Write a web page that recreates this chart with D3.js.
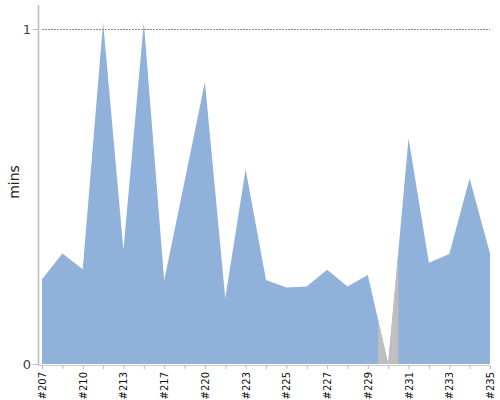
<!DOCTYPE html>
<html><head><meta charset="utf-8">
<script src="https://cdn.jsdelivr.net/npm/d3@7"></script>
<style>body{margin:0;background:#fff;}svg{display:block;font-family:"DejaVu Sans",Verdana,sans-serif;}</style>
</head><body>
<svg id="c" width="500" height="400"></svg>
<script>
const builds = ["#207","#208","#210","#212","#213","#215","#217","#218","#220","#222","#223","#224","#225","#226","#227","#228","#229","#230","#231","#232","#233","#234","#235"];
const mins = [0.253,0.330,0.283,1.02,0.340,1.02,0.249,0.545,0.842,0.196,0.581,0.251,0.228,0.231,0.281,0.231,0.266,0,0.674,0.302,0.328,0.554,0.330];
const failed = ["#230"];
const yTicks = [0, 1];

const svg = d3.select("#c");
const x = d3.scalePoint().domain(builds).range([42, 490]);
const y = d3.scaleLinear().domain([0, 1]).range([364, 29]);
const step = x.step();
const data = builds.map((b, i) => ({b, v: mins[i]}));

const area = d3.area().x(d => x(d.b)).y0(y(0)).y1(d => y(d.v));

// grid line at 1
svg.append("line").attr("x1", 42).attr("x2", 490).attr("y1", y(1)).attr("y2", y(1))
  .attr("stroke", "#888").attr("stroke-dasharray", "2,1").attr("stroke-width", 1).attr("shape-rendering","crispEdges");

svg.append("path").datum(data).attr("d", area).attr("fill", "#8fb1da");

// failed build bands
const defs = svg.append("defs");
failed.forEach((f, k) => {
  const cx = x(f);
  defs.append("clipPath").attr("id", "clip" + k).append("rect")
    .attr("x", cx - step / 2).attr("width", step).attr("y", 0).attr("height", 400);
  svg.append("path").datum(data).attr("d", area).attr("fill", "#bebebe").attr("clip-path", `url(#clip${k})`);
});

// y axis
svg.append("line").attr("x1", 38.5).attr("x2", 38.5).attr("y1", 5).attr("y2", 365)
  .attr("stroke", "#bbb").attr("stroke-width", 1.5);
yTicks.forEach(t => {
  svg.append("line").attr("x1", 33).attr("x2", 38).attr("y1", y(t) + 0.5).attr("y2", y(t) + 0.5).attr("stroke", "#bbb");
  svg.append("text").attr("x", 31).attr("y", y(t)).attr("dy", "0.36em").attr("text-anchor", "end")
    .attr("font-size", 13).attr("fill", "#444").text(t);
});
svg.append("text").attr("transform", "translate(19,182) rotate(-90)").attr("text-anchor", "middle")
  .attr("font-size", 14).attr("fill", "#222").text("mins");

// x axis
svg.append("line").attr("x1", 38).attr("x2", 491).attr("y1", 365.5).attr("y2", 365.5).attr("stroke", "#ccc");
builds.forEach((b, i) => {
  svg.append("line").attr("x1", x(b) + 0.5).attr("x2", x(b) + 0.5).attr("y1", 365).attr("y2", 369).attr("stroke", "#bbb");
  if (i % 2 === 0) {
    svg.append("text").attr("transform", `translate(${x(b) + 4},372) rotate(-90)`).attr("text-anchor", "end")
      .attr("font-size", 10).attr("fill", "#111").text(b);
  }
});
</script>
</body></html>
